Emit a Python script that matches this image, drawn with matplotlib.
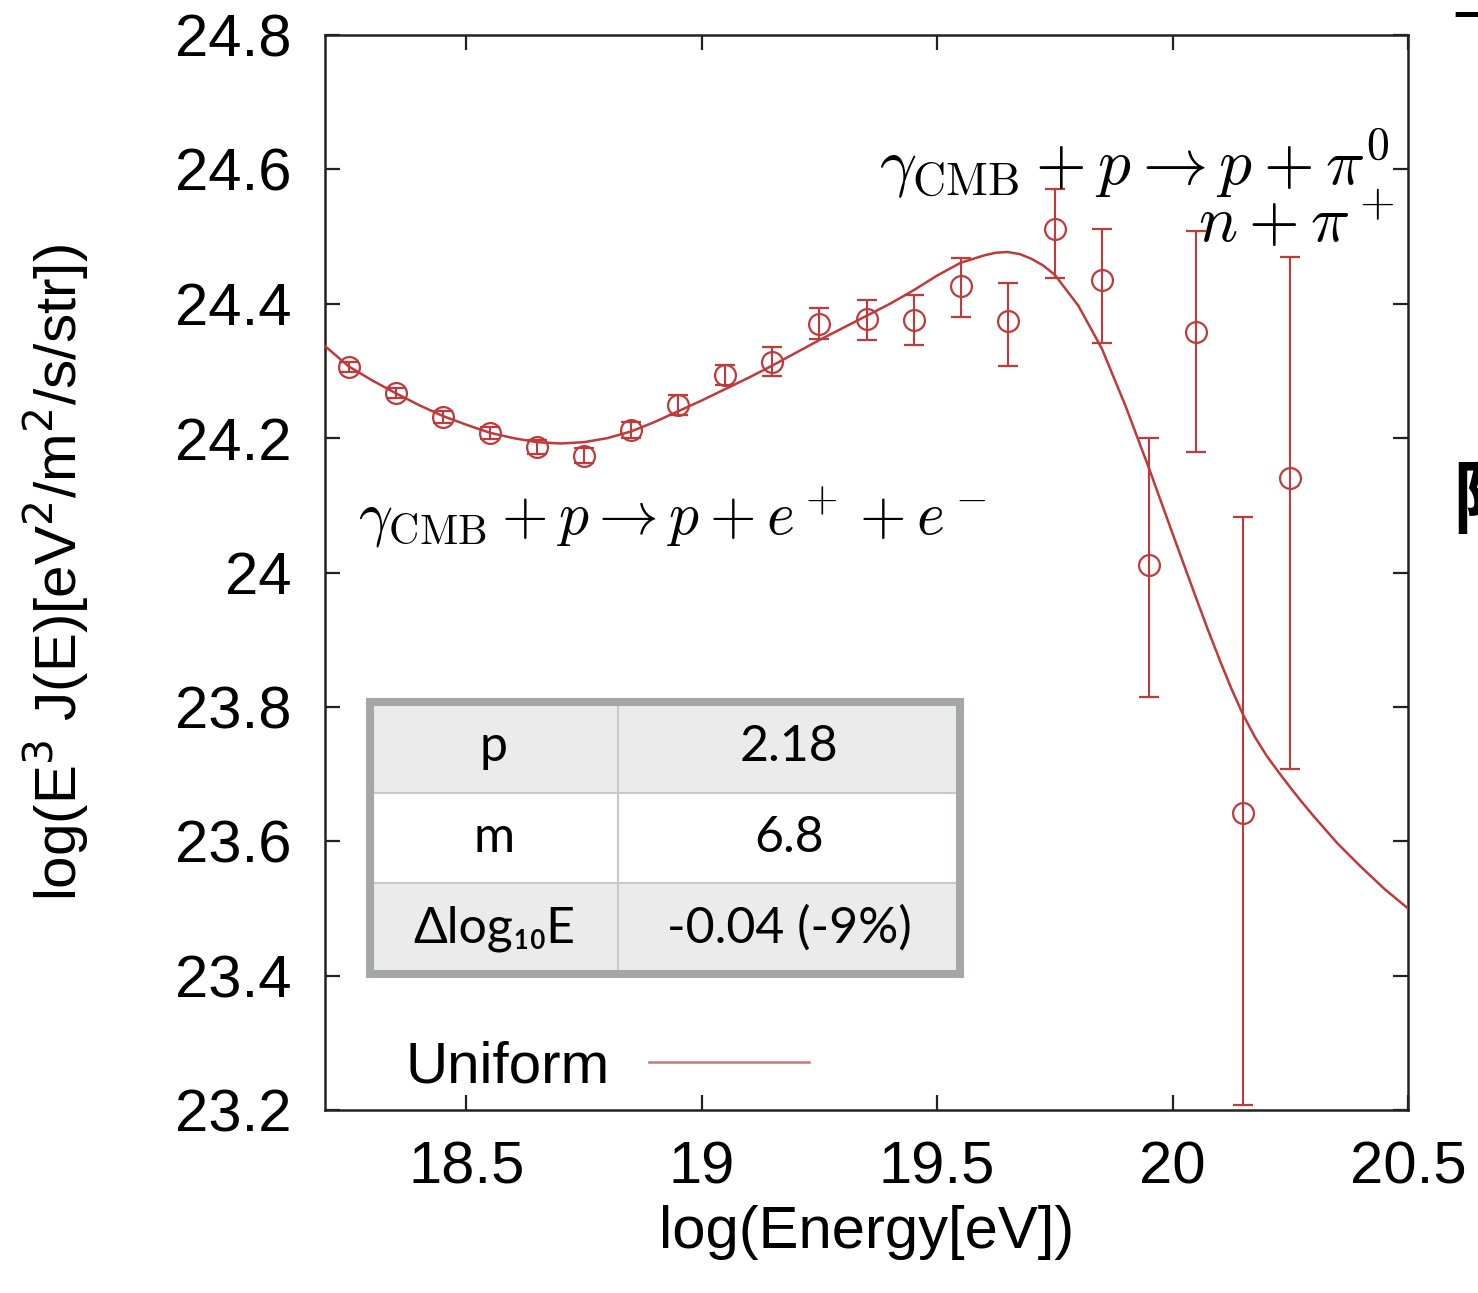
import matplotlib
matplotlib.use('Agg')
import matplotlib.pyplot as plt

# measured points
energy = [18.25, 18.35, 18.45, 18.55, 18.65, 18.75, 18.85, 18.95, 19.05, 19.15, 19.25,
          19.35, 19.45, 19.55, 19.65, 19.75, 19.85, 19.95, 20.05, 20.15, 20.25]
flux = [24.306, 24.267, 24.232, 24.208, 24.187, 24.174, 24.212, 24.249, 24.294, 24.314, 24.370,
        24.377, 24.376, 24.427, 24.375, 24.511, 24.435, 24.011, 24.358, 23.642, 24.141]
err_lo = [0.008, 0.008, 0.009, 0.009, 0.010, 0.011, 0.012, 0.015, 0.015, 0.022, 0.022,
          0.031, 0.038, 0.047, 0.067, 0.072, 0.093, 0.197, 0.179, 0.434, 0.434]
err_hi = [0.008, 0.008, 0.009, 0.009, 0.010, 0.011, 0.012, 0.015, 0.015, 0.021, 0.023,
          0.028, 0.037, 0.041, 0.056, 0.060, 0.077, 0.189, 0.151, 0.440, 0.328]

# "Uniform" model curve
fit_x = [18.2, 18.25, 18.3, 18.35, 18.4, 18.45, 18.5, 18.55, 18.6, 18.65, 18.7, 18.75, 18.8,
         18.85, 18.9, 18.95, 19.0, 19.05, 19.1, 19.15, 19.2, 19.25, 19.3, 19.35, 19.4, 19.45,
         19.5, 19.55, 19.6, 19.625, 19.65, 19.675, 19.7, 19.725, 19.75, 19.8, 19.85, 19.9,
         19.95, 20.0, 20.05, 20.075, 20.1, 20.125, 20.15, 20.175, 20.2, 20.225, 20.25, 20.275,
         20.3, 20.35, 20.4, 20.45, 20.5]
fit_y = [24.337, 24.307, 24.286, 24.267, 24.249, 24.233, 24.220, 24.208, 24.200, 24.194,
         24.192, 24.194, 24.200, 24.210, 24.224, 24.240, 24.256, 24.273, 24.290, 24.308,
         24.327, 24.346, 24.364, 24.382, 24.400, 24.420, 24.442, 24.461, 24.472, 24.476,
         24.477, 24.474, 24.467, 24.457, 24.443, 24.397, 24.333, 24.248, 24.155, 24.058,
         23.962, 23.915, 23.870, 23.827, 23.788, 23.755, 23.727, 23.703, 23.680, 23.658,
         23.637, 23.597, 23.562, 23.529, 23.500]

xticks = [18.5, 19, 19.5, 20, 20.5]
xticklabels = ['18.5', '19', '19.5', '20', '20.5']
yticks = [23.2, 23.4, 23.6, 23.8, 24.0, 24.2, 24.4, 24.6, 24.8]
yticklabels = ['23.2', '23.4', '23.6', '23.8', '24', '24.2', '24.4', '24.6', '24.8']

table_rows = [['p', '2.18'], ['m', '6.8'], ['Δlog\u2081\u2080E', '-0.04 (-9%)']]

red = '#c0393b'
W, H = 1478, 1293

plt.rcParams['font.family'] = ['Liberation Sans', 'DejaVu Sans']
plt.rcParams['mathtext.fontset'] = 'cm'

fig = plt.figure(figsize=(W / 100, H / 100), dpi=100)
ax = fig.add_axes([325 / W, 1 - 1110 / H, (1408 - 325) / W, (1110 - 35) / H])

ax.plot(fit_x, fit_y, color=red, lw=1.8, label='Uniform', zorder=3)
ax.errorbar(energy, flux, yerr=[err_lo, err_hi], fmt='o', mfc='none', mec=red, ms=15,
            mew=1.6, ecolor=red, elinewidth=1.5, capsize=7, capthick=1.5, zorder=4)

ax.set_xlim(18.2, 20.5)
ax.set_ylim(23.2, 24.8)
ax.set_xticks(xticks)
ax.set_xticklabels(xticklabels)
ax.set_yticks(yticks)
ax.set_yticklabels(yticklabels)
ax.tick_params(direction='in', top=True, right=True, length=11, width=1.6,
               labelsize=43, color='#222222')
ax.tick_params(axis='y', pad=24)
ax.tick_params(axis='x', pad=22)
for s in ax.spines.values():
    s.set_linewidth(1.8)
    s.set_color('#222222')

ax.set_xlabel('log(Energy[eV])', fontsize=43)
ax.xaxis.set_label_coords(0.5, -0.088)
ax.set_ylabel('log(E$^3$ J(E)[eV$^2$/m$^2$/s/str])', fontsize=42,
              math_fontfamily='dejavusans')
ax.yaxis.set_label_coords(-0.216, 0.5)

ax.text(0.983, 0.8605, r'$\gamma_{\rm CMB} + p \rightarrow p + \pi^0$', transform=ax.transAxes,
        ha='right', va='baseline', fontsize=47, zorder=6)
ax.text(0.988, 0.808, r'$n + \pi^+$', transform=ax.transAxes,
        ha='right', va='baseline', fontsize=47, zorder=6)
ax.text(0.0305, 0.535, r'$\gamma_{\rm CMB} + p \rightarrow p + e^+ + e^-$', transform=ax.transAxes,
        ha='left', va='baseline', fontsize=43, zorder=6)

leg = ax.legend(loc='lower left', bbox_to_anchor=(0.0254, -0.034), frameon=False, fontsize=42,
                markerfirst=False, handlelength=2.74, handletextpad=0.68)
leg.get_lines()[0].set_alpha(0.7)

# parameter table
tab_ax = fig.add_axes([370 / W, 1 - 974 / H, 590 / W, 272 / H])
tab_ax.set_xticks([])
tab_ax.set_yticks([])
for s in tab_ax.spines.values():
    s.set_linewidth(5.8)
    s.set_color('#a4a7a6')
    s.set_zorder(20)
shades = [['#ebebeb', '#ebebeb'], ['#ffffff', '#ffffff'], ['#ebebeb', '#ebebeb']]
tbl = tab_ax.table(cellText=table_rows, cellColours=shades, cellLoc='center',
                   colWidths=[0.42, 0.58], bbox=[0, 0, 1, 1])
tbl.auto_set_font_size(False)
for (r, c), cell in tbl.get_celld().items():
    cell.set_edgecolor('#c9c9c9')
    cell.set_linewidth(1.5)
    cell.get_text().set_fontsize(36)
    cell.get_text().set_fontfamily(['Lato', 'DejaVu Sans'])

# cut-off text from the neighbouring page
fig.text(1452 / W, 1 - 527 / H, '陽', fontsize=58, fontweight='bold',
         family=['Noto Sans CJK JP'], ha='left', va='baseline')
fig.text(1452 / W, 1 - 38 / H, '一', fontsize=44,
         family=['Noto Sans CJK JP'], ha='left', va='baseline')

fig.savefig('out.png', dpi=100)
